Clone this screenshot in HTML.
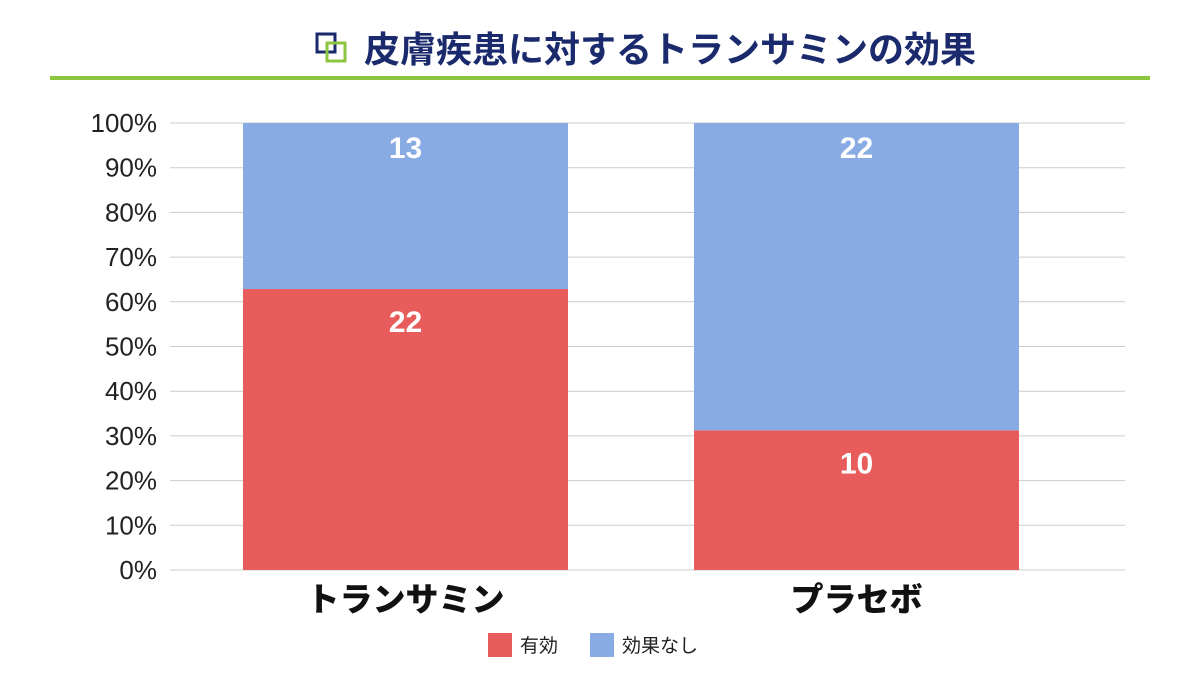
<!DOCTYPE html>
<html><head><meta charset="utf-8"><style>
body{margin:0;background:#fff;width:1200px;height:675px;overflow:hidden;font-family:"Liberation Sans","Noto Sans CJK JP",sans-serif}
</style></head><body>
<svg width="1200" height="675" xmlns="http://www.w3.org/2000/svg" font-family="Liberation Sans, Noto Sans CJK JP, sans-serif">
<g>
<rect x="317" y="34" width="18" height="18" fill="none" stroke="#1a2a6c" stroke-width="3"/>
<rect x="327" y="43" width="18" height="18" fill="none" stroke="#8cc63f" stroke-width="3"/>
<text x="364" y="62" font-size="36" font-weight="bold" fill="#1a2a6c">皮膚疾患に対するトランサミンの効果</text>
<rect x="50" y="76" width="1100" height="4" fill="#8cc63f"/>
</g>
<g id="grid"></g><g id="bars"></g>
<g>
<rect x="488" y="633" width="24" height="24" fill="#e85c5c"/>
<text x="520" y="652" font-size="19" fill="#222">有効</text>
<rect x="590" y="633" width="24" height="24" fill="#88abe3"/>
<text x="622" y="652" font-size="19" fill="#222">効果なし</text>
</g>
</svg>
<script>
const categories=["トランサミン","プラセボ"];
const effective=[22,10];
const ineffective=[13,22];
const yTicks=[0,10,20,30,40,50,60,70,80,90,100];
const NS="http://www.w3.org/2000/svg";
const x0=170,x1=1125,yb=570,yt=123;
const y=p=>yb-(yb-yt)*p/100;
const barW=325, barStep=451, barStart=73;
const cx=i=>x0+barStart+barW/2+barStep*i;
function mk(tag,attrs,parent){const e=document.createElementNS(NS,tag);for(const k in attrs)e.setAttribute(k,attrs[k]);parent.appendChild(e);return e;}
const grid=document.getElementById('grid'),bars=document.getElementById('bars');
yTicks.forEach(t=>{
 const l=mk('line',{x1:x0,x2:x1,y1:y(t),y2:y(t),stroke:'#cccccc','stroke-width':1},grid);
 
 
 const tx=mk('text',{x:157,y:y(t)+9,'text-anchor':'end','font-size':26,fill:'#222'},grid);
 tx.textContent=t+'%';
 
 
});
categories.forEach((c,i)=>{
 const tot=effective[i]+ineffective[i];
 const pe=effective[i]/tot*100;
 const bx=cx(i)-barW/2;
 const r1=mk('rect',{x:bx,y:y(pe),width:barW,height:yb-y(pe),fill:'#e85c5c'},bars);
 
 
 const r2=mk('rect',{x:bx,y:y(100),width:barW,height:y(pe)-y(100),fill:'#88abe3'},bars);
 
 
 const t1=mk('text',{x:cx(i),y:y(pe)+43,'text-anchor':'middle','font-size':30,'font-weight':'bold',fill:'#fff'},bars);
 t1.textContent=effective[i];
 
 
 const t2=mk('text',{x:cx(i),y:y(100)+35,'text-anchor':'middle','font-size':30,'font-weight':'bold',fill:'#fff'},bars);
 t2.textContent=ineffective[i];
 
 
 const xl=mk('text',{x:cx(i),y:611,'text-anchor':'middle','font-size':33,'font-weight':'900',fill:'#111'},bars);
 xl.textContent=c;
 
 
});
</script>
</body></html>
